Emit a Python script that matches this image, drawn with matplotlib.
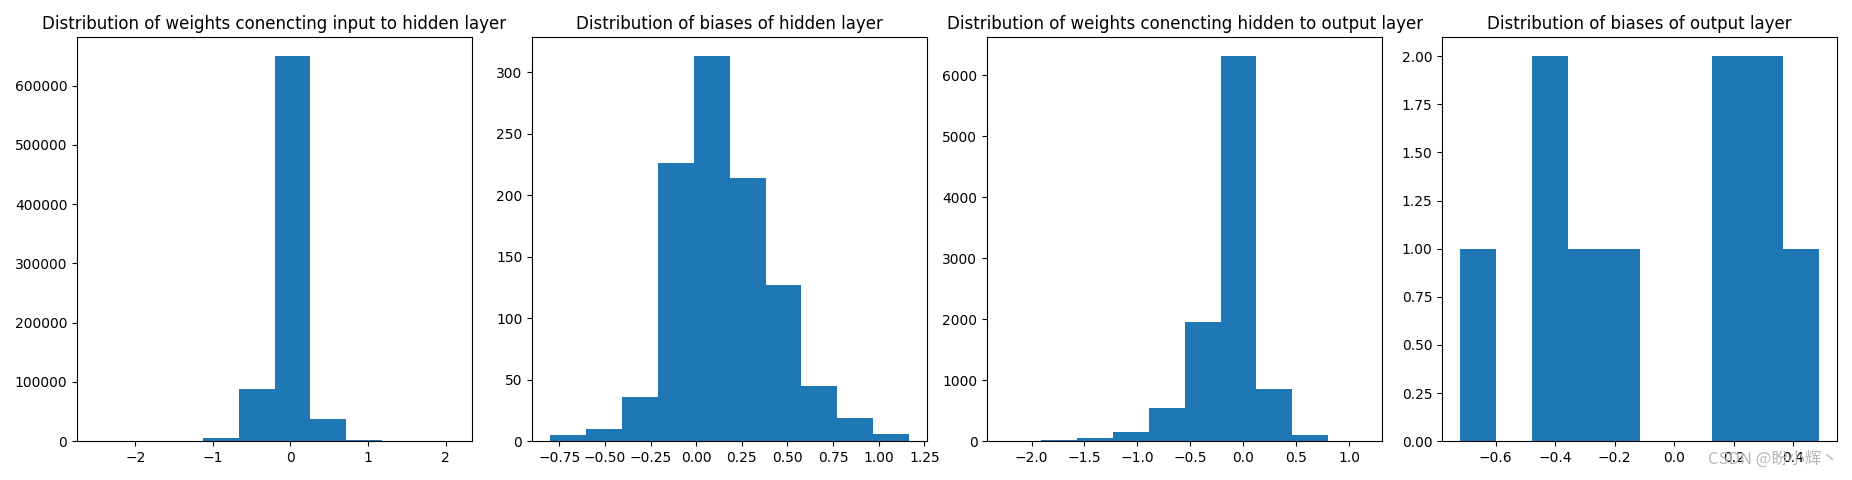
import matplotlib
matplotlib.use("Agg")
import matplotlib.pyplot as plt
import numpy as np

# Histogram bin edges and counts (10 bins each)
w1_edges = np.linspace(-2.52, 2.11, 11)
w1_counts = [3, 8, 60, 5200, 88400, 649500, 37300, 1700, 40, 5]

b1_edges = np.linspace(-0.80, 1.166, 11)
b1_counts = [5, 10, 36, 226, 313, 214, 127, 45, 19, 6]

w2_edges = np.linspace(-2.25, 1.144, 11)
w2_counts = [3, 18, 52, 150, 546, 1952, 6310, 853, 98, 4]

b2_edges = np.linspace(-0.72, 0.488, 11)
b2_counts = [1, 0, 2, 1, 1, 0, 0, 2, 2, 1]

titles = [
    "Distribution of weights conencting input to hidden layer",
    "Distribution of biases of hidden layer",
    "Distribution of weights conencting hidden to output layer",
    "Distribution of biases of output layer",
]

fig, axes = plt.subplots(1, 4, figsize=(18.52, 4.8), dpi=100)
fig.subplots_adjust(left=0.0416, right=0.992, top=0.923, bottom=0.081, wspace=0.152)

data = [(w1_edges, w1_counts), (b1_edges, b1_counts),
        (w2_edges, w2_counts), (b2_edges, b2_counts)]

for ax, (edges, counts), title in zip(axes, data, titles):
    ax.hist(edges[:-1], bins=edges, weights=counts, color="#1f77b4")
    ax.set_title(title)

# watermark from the source image
fig.text(0.9925, 0.025, "CSDN @盼小辉丶", ha="right", va="bottom", fontsize=12,
         color="#b8b8b8", family=["Noto Sans CJK SC", "DejaVu Sans"])

fig.savefig("out.png")
